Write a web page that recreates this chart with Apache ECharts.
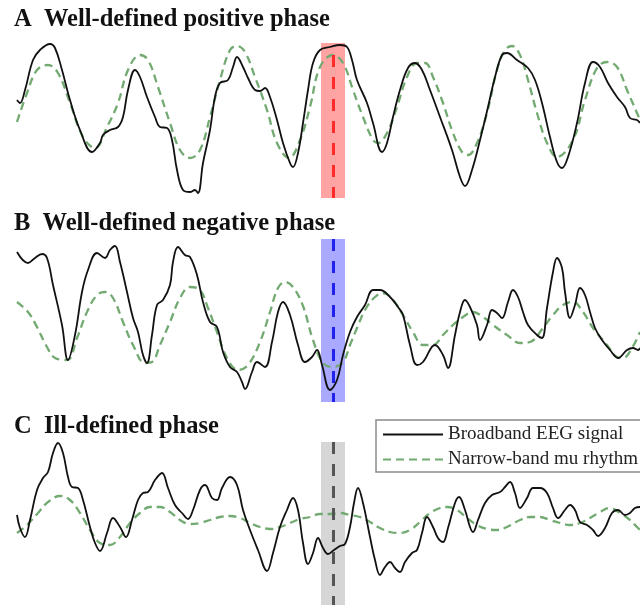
<!DOCTYPE html>
<html>
<head>
<meta charset="utf-8">
<script src="https://cdn.jsdelivr.net/npm/echarts@6/dist/echarts.min.js"></script>
<style>
html,body{margin:0;padding:0;background:#fff;}
#chart{width:640px;height:609px;}
</style>
</head>
<body>
<div id="chart"></div>
<script>
// ---- Data (x: sample time, y: amplitude, arbitrary units) ----
const panelTitles = ['A  Well-defined positive phase', 'B  Well-defined negative phase', 'C  Ill-defined phase'];
const seriesNames = ['Broadband EEG signal', 'Narrow-band mu rhythm'];
const eventTime = 333;
const eventWindow = [321, 345];

const aBroad = [[17,18],[20,15],[25,28],[33,58],[40,68],[50,74],[55,70],[62,48],[70,18],[80,-12],[92,-34],[100,-25],[103,-17],[110,-12],[118,-9],[123,1],[128,28],[135,48],[140,41],[147,21],[155,1],[160,-9],[167,-10],[172,-22],[177,-52],[183,-72],[190,-74],[195,-72],[198,-75],[203,-45],[210,-12],[215,21],[220,35],[228,38],[233,51],[237,61],[243,51],[248,40],[255,28],[260,27],[265,30],[270,21],[277,-2],[283,-25],[290,-45],[293,-49],[298,-35],[303,-5],[308,28],[313,55],[320,68],[330,71],[340,73],[347,71],[352,58],[357,38],[367,15],[373,-5],[382,-34],[387,-25],[393,1],[400,28],[408,50],[415,55],[422,48],[430,28],[440,1],[452,-32],[460,-59],[465,-68],[472,-52],[480,-22],[488,11],[495,41],[502,63],[507,65],[517,58],[528,50],[535,38],[542,15],[550,-19],[557,-44],[562,-50],[568,-39],[577,-5],[585,35],[593,56],[600,51],[608,35],[617,21],[625,11],[630,0],[637,-2],[640,-5]];
const aNarrow = [[17,-4],[27,25],[37,48],[48,53],[58,45],[70,15],[83,-19],[95,-30],[107,-9],[118,15],[128,48],[140,63],[148,58],[158,31],[170,-5],[180,-32],[190,-40],[200,-32],[210,1],[220,38],[230,68],[237,72],[245,66],[255,41],[267,8],[277,-25],[289,-40],[300,-22],[310,11],[320,51],[333,63],[343,55],[353,28],[363,1],[373,-22],[378,-25],[387,-15],[397,11],[407,41],[417,55],[425,55],[433,41],[443,15],[453,-15],[462,-34],[468,-37],[477,-25],[487,5],[497,48],[505,68],[512,72],[520,63],[528,38],[537,5],[547,-25],[557,-39],[573,-22],[585,18],[597,50],[607,56],[617,51],[627,28],[637,5],[640,-2]];

const bBroad = [[17,68],[28,57],[35,62],[42,66],[47,62],[53,35],[62,-5],[68,-40],[75,-15],[82,28],[88,50],[97,67],[105,62],[110,70],[115,74],[120,58],[127,28],[133,2],[138,-12],[143,-35],[147,-43],[152,-15],[157,15],[163,20],[170,35],[173,58],[178,73],[185,65],[190,63],[197,45],[203,18],[210,-2],[217,-7],[223,-32],[230,-47],[237,-52],[242,-62],[245,-69],[252,-52],[257,-42],[265,-47],[272,-22],[278,8],[283,18],[290,5],[298,-25],[305,-42],[312,-37],[317,-30],[322,-45],[330,-70],[337,-60],[343,-35],[350,-12],[357,3],[365,15],[373,30],[380,30],[390,23],[398,13],[403,5],[410,-25],[417,-45],[423,-42],[435,-25],[443,-35],[448,-48],[455,-15],[460,8],[465,20],[470,13],[477,-5],[480,-20],[487,-5],[492,10],[497,7],[502,2],[508,18],[513,30],[518,23],[523,8],[528,-5],[537,-15],[542,-18],[547,12],[553,48],[557,62],[562,52],[565,28],[570,2],[575,15],[580,32],[585,25],[590,8],[595,-8],[602,-20],[610,-30],[618,-38],[627,-30],[633,-28],[638,-30],[640,-28]];
const bNarrow = [[17,18],[28,8],[37,-7],[47,-27],[55,-38],[67,-40],[77,-18],[87,8],[97,25],[105,28],[113,22],[123,-2],[133,-25],[145,-43],[152,-42],[160,-25],[170,-2],[180,22],[190,33],[200,30],[208,12],[217,-12],[227,-38],[238,-50],[248,-45],[260,-22],[270,8],[278,32],[285,38],[293,33],[303,14],[313,-20],[323,-43],[333,-47],[343,-42],[350,-25],[357,-8],[365,10],[375,23],[383,27],[393,20],[403,5],[413,-12],[423,-25],[433,-25],[443,-15],[453,-5],[463,3],[473,8],[483,3],[493,-5],[507,-15],[520,-23],[530,-22],[543,-8],[553,5],[563,15],[573,18],[583,8],[593,-8],[607,-25],[617,-37],[623,-38],[632,-28],[640,-12]];

const cBroad = [[17,8],[20,-5],[25,-14],[30,3],[37,33],[43,45],[48,51],[53,70],[58,80],[63,70],[68,46],[72,36],[78,35],[83,23],[90,-4],[95,-20],[100,-28],[107,-10],[113,5],[120,-4],[126,-14],[132,3],[138,23],[143,30],[148,31],[155,43],[162,50],[168,35],[175,18],[182,10],[188,4],[193,13],[200,33],[205,38],[212,25],[217,23],[222,35],[230,46],[237,38],[243,13],[250,-7],[258,-27],[267,-48],[273,-30],[280,-4],[287,13],[293,25],[298,13],[303,-20],[308,-41],[313,-30],[318,-15],[323,-25],[328,-31],[334,-27],[340,-23],[345,-21],[350,-4],[354,20],[358,35],[363,20],[370,-14],[375,-37],[380,-52],[385,-44],[390,-39],[395,-45],[400,-49],[405,-39],[412,-30],[417,-27],[422,-10],[427,6],[433,-4],[438,-15],[443,-19],[448,-5],[455,20],[459,26],[465,13],[470,-4],[473,-9],[478,3],[485,20],[492,28],[500,31],[505,36],[510,41],[515,30],[520,15],[527,25],[533,35],[540,35],[547,30],[553,15],[558,5],[565,13],[570,18],[575,13],[580,1],[587,-2],[593,-7],[598,-13],[605,-5],[612,10],[618,13],[625,8],[630,10],[635,15],[640,16]];
const cNarrow = [[17,-10],[27,-2],[38,10],[48,21],[60,27],[70,23],[80,10],[90,-7],[100,-20],[110,-22],[120,-14],[130,0],[140,10],[150,16],[160,16],[170,11],[180,3],[190,-1],[200,0],[210,3],[220,6],[230,7],[240,5],[250,0],[260,-4],[270,-6],[280,-4],[290,0],[300,4],[310,6],[320,9],[330,9],[340,10],[350,8],[360,6],[370,1],[380,-5],[390,-9],[400,-10],[410,-7],[420,1],[430,10],[440,15],[447,16],[457,13],[467,5],[477,-2],[487,-6],[497,-7],[507,-4],[520,3],[530,6],[540,6],[550,3],[560,0],[570,-2],[580,0],[590,5],[600,11],[610,15],[620,10],[630,3],[637,-4],[640,-7]];

// ---- Layout / style ----
const grids = [
  {top: 43, height: 155, yMin: -80, yMax: 75, lineTop: 63},
  {top: 239, height: 163, yMin: -82, yMax: 81, lineTop: 81},
  {top: 442, height: 163, yMin: -82, yMax: 81, lineTop: 81}
];
const bandColors = ['rgba(255,0,0,0.36)', 'rgba(30,30,255,0.38)', 'rgba(0,0,0,0.16)'];
const lineColors = ['#ff2a2a', '#2222ee', '#555555'];
const titleTops = [7, 211, 414];
const broad = [aBroad, bBroad, cBroad];
const narrow = [aNarrow, bNarrow, cNarrow];
const SERIF = '"Liberation Serif","Times New Roman",serif';

const option = {
  backgroundColor: '#fff',
  animation: false,
  title: panelTitles.map((t, i) => ({
    text: t, left: 14, top: titleTops[i], padding: 0,
    textStyle: {fontFamily: SERIF, fontWeight: 'bold', fontSize: 24.5, color: '#111'}
  })),
  legend: {
    data: seriesNames,
    orient: 'vertical',
    left: 376, top: 420,
    padding: [5, 40, 3, 6],
    itemGap: 6,
    itemWidth: 60, itemHeight: 14,
    backgroundColor: '#fff',
    borderColor: '#8a8a8a', borderWidth: 1.5, borderRadius: 0,
    itemStyle: {opacity: 0, borderWidth: 0},
    textStyle: {fontFamily: SERIF, fontSize: 19, color: '#222'}
  },
  grid: grids.map(g => ({left: 0, right: 0, top: g.top, height: g.height})),
  xAxis: grids.map((g, i) => ({type: 'value', gridIndex: i, min: 0, max: 640, show: false})),
  yAxis: grids.map((g, i) => ({type: 'value', gridIndex: i, min: g.yMin, max: g.yMax, show: false})),
  series: []
};

grids.forEach((g, i) => {
  option.series.push({
    name: seriesNames[1], type: 'line', xAxisIndex: i, yAxisIndex: i,
    data: narrow[i], smooth: 0.4, symbol: 'none', clip: false,
    lineStyle: {color: '#72aa72', width: 2.3, type: [8, 5]},
    itemStyle: {color: '#72aa72'},
    markArea: {
      silent: true,
      itemStyle: {color: bandColors[i]},
      data: [[{xAxis: eventWindow[0]}, {xAxis: eventWindow[1]}]]
    },
    z: 2
  });
  option.series.push({
    name: seriesNames[0], type: 'line', xAxisIndex: i, yAxisIndex: i,
    data: broad[i], smooth: 0.4, symbol: 'none', clip: false,
    lineStyle: {color: '#111', width: 1.8},
    itemStyle: {color: '#111'},
    markLine: {
      silent: true, symbol: 'none', label: {show: false},
      lineStyle: {color: lineColors[i], width: 3, type: [12, 10]},
      data: [[{coord: [eventTime, g.lineTop]}, {coord: [eventTime, g.yMin]}]]
    },
    z: 3
  });
});

const chart = echarts.init(document.getElementById('chart'), null, {renderer: 'canvas'});
chart.setOption(option);
</script>
</body>
</html>
